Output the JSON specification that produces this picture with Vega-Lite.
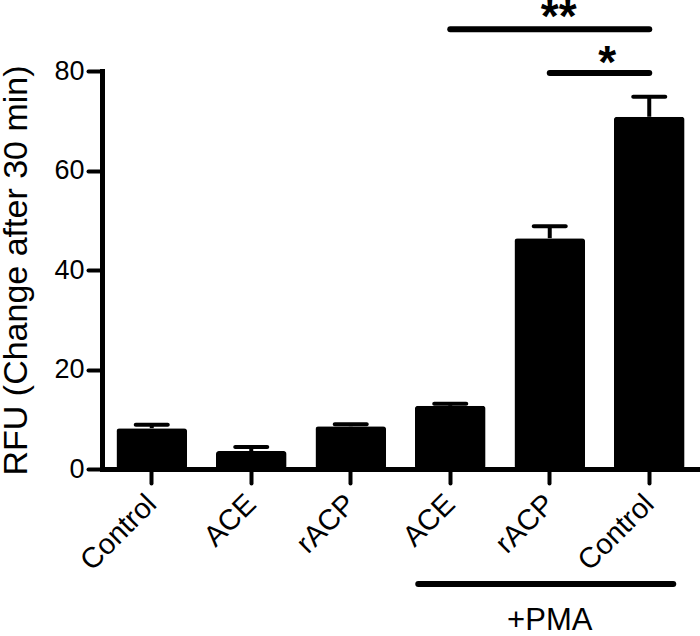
{
  "$schema": "https://vega.github.io/schema/vega-lite/v6.json",
  "width": 597,
  "height": 398,
  "autosize": {"type": "none"},
  "padding": {"left": 102, "top": 71, "right": 1, "bottom": 167},
  "config": {
    "view": {"stroke": null},
    "font": "Liberation Sans",
    "axis": {
      "domainColor": "black", "domainWidth": 5, "domainCap": "square",
      "tickColor": "black", "tickWidth": 4, "tickSize": 14, "tickCap": "round",
      "labelColor": "black", "labelFont": "Liberation Sans", "labelFontSize": 27,
      "titleColor": "black", "titleFont": "Liberation Sans", "titleFontWeight": "normal",
      "grid": false
    }
  },
  "datasets": {
    "bars": [
      {"group": "Control", "mean": 8.2, "upper": 8.9},
      {"group": "ACE", "mean": 3.6, "upper": 4.4},
      {"group": "rACP", "mean": 8.6, "upper": 9.0},
      {"group": "ACE+PMA", "mean": 12.7, "upper": 13.1},
      {"group": "rACP+PMA", "mean": 46.4, "upper": 48.8},
      {"group": "Control+PMA", "mean": 70.8, "upper": 74.8}
    ],
    "sig": [
      {"from": "ACE+PMA", "to": "Control+PMA", "y": 88.4},
      {"from": "rACP+PMA", "to": "Control+PMA", "y": 79.6}
    ],
    "pma": [
      {"from": "ACE+PMA", "to": "Control+PMA", "y": -23.1, "label": "+PMA", "at": "rACP+PMA", "ty": -30.6}
    ]
  },
  "encoding": {
    "x": {
      "field": "group", "type": "nominal", "sort": null,
      "scale": {"domain": ["Control", "ACE", "rACP", "ACE+PMA", "rACP+PMA", "Control+PMA"], "paddingInner": 0.29},
      "axis": {"title": null, "labelAngle": -45, "labelAlign": "right", "labelBaseline": "middle", "labelPadding": 16,
               "labelFontSize": 29, "labelExpr": "replace(datum.label, '+PMA', '')"}
    }
  },
  "layer": [
    {
      "data": {"name": "bars"},
      "mark": {"type": "bar", "color": "black", "cornerRadius": 3},
      "encoding": {
        "y": {"field": "mean", "type": "quantitative",
              "scale": {"domain": [0, 80], "nice": false},
              "axis": {"values": [0, 20, 40, 60, 80], "title": "RFU (Change after 30 min)", "titleFontSize": 34, "titlePadding": 20, "labelPadding": 4}}
      }
    },
    {
      "data": {"name": "bars"},
      "mark": {"type": "rule", "color": "black", "strokeWidth": 4},
      "encoding": {
        "y": {"field": "mean", "type": "quantitative"},
        "y2": {"field": "upper"}
      }
    },
    {
      "data": {"name": "bars"},
      "mark": {"type": "tick", "color": "black", "opacity": 1, "thickness": 4, "size": 36, "cornerRadius": 2},
      "encoding": {
        "y": {"field": "upper", "type": "quantitative"}
      }
    },
    {
      "data": {"name": "sig"},
      "mark": {"type": "rule", "color": "black", "strokeWidth": 6, "strokeCap": "round", "clip": false},
      "encoding": {
        "x": {"field": "from", "type": "nominal"},
        "x2": {"field": "to"},
        "y": {"field": "y", "type": "quantitative"}
      }
    },
    {
      "data": {"values": [{"at": "rACP+PMA", "label": "**", "y": 87.8}]},
      "mark": {"type": "text", "color": "black", "fontSize": 46, "fontWeight": "bold", "baseline": "alphabetic", "dx": 9, "clip": false},
      "encoding": {
        "x": {"field": "at", "type": "nominal"},
        "y": {"field": "y", "type": "quantitative"},
        "text": {"field": "label"}
      }
    },
    {
      "data": {"values": [{"at": "Control+PMA", "label": "*", "y": 78.6}]},
      "mark": {"type": "text", "color": "black", "fontSize": 46, "fontWeight": "bold", "baseline": "alphabetic", "dx": -42, "clip": false},
      "encoding": {
        "x": {"field": "at", "type": "nominal"},
        "y": {"field": "y", "type": "quantitative"},
        "text": {"field": "label"}
      }
    },
    {
      "data": {"name": "pma"},
      "mark": {"type": "rule", "color": "black", "strokeWidth": 6, "strokeCap": "round", "xOffset": -32, "x2Offset": 24, "clip": false},
      "encoding": {
        "x": {"field": "from", "type": "nominal"},
        "x2": {"field": "to"},
        "y": {"field": "y", "type": "quantitative"}
      }
    },
    {
      "data": {"name": "pma"},
      "mark": {"type": "text", "color": "black", "fontSize": 31, "baseline": "middle", "clip": false},
      "encoding": {
        "x": {"field": "at", "type": "nominal"},
        "y": {"field": "ty", "type": "quantitative"},
        "text": {"field": "label"}
      }
    }
  ]
}
